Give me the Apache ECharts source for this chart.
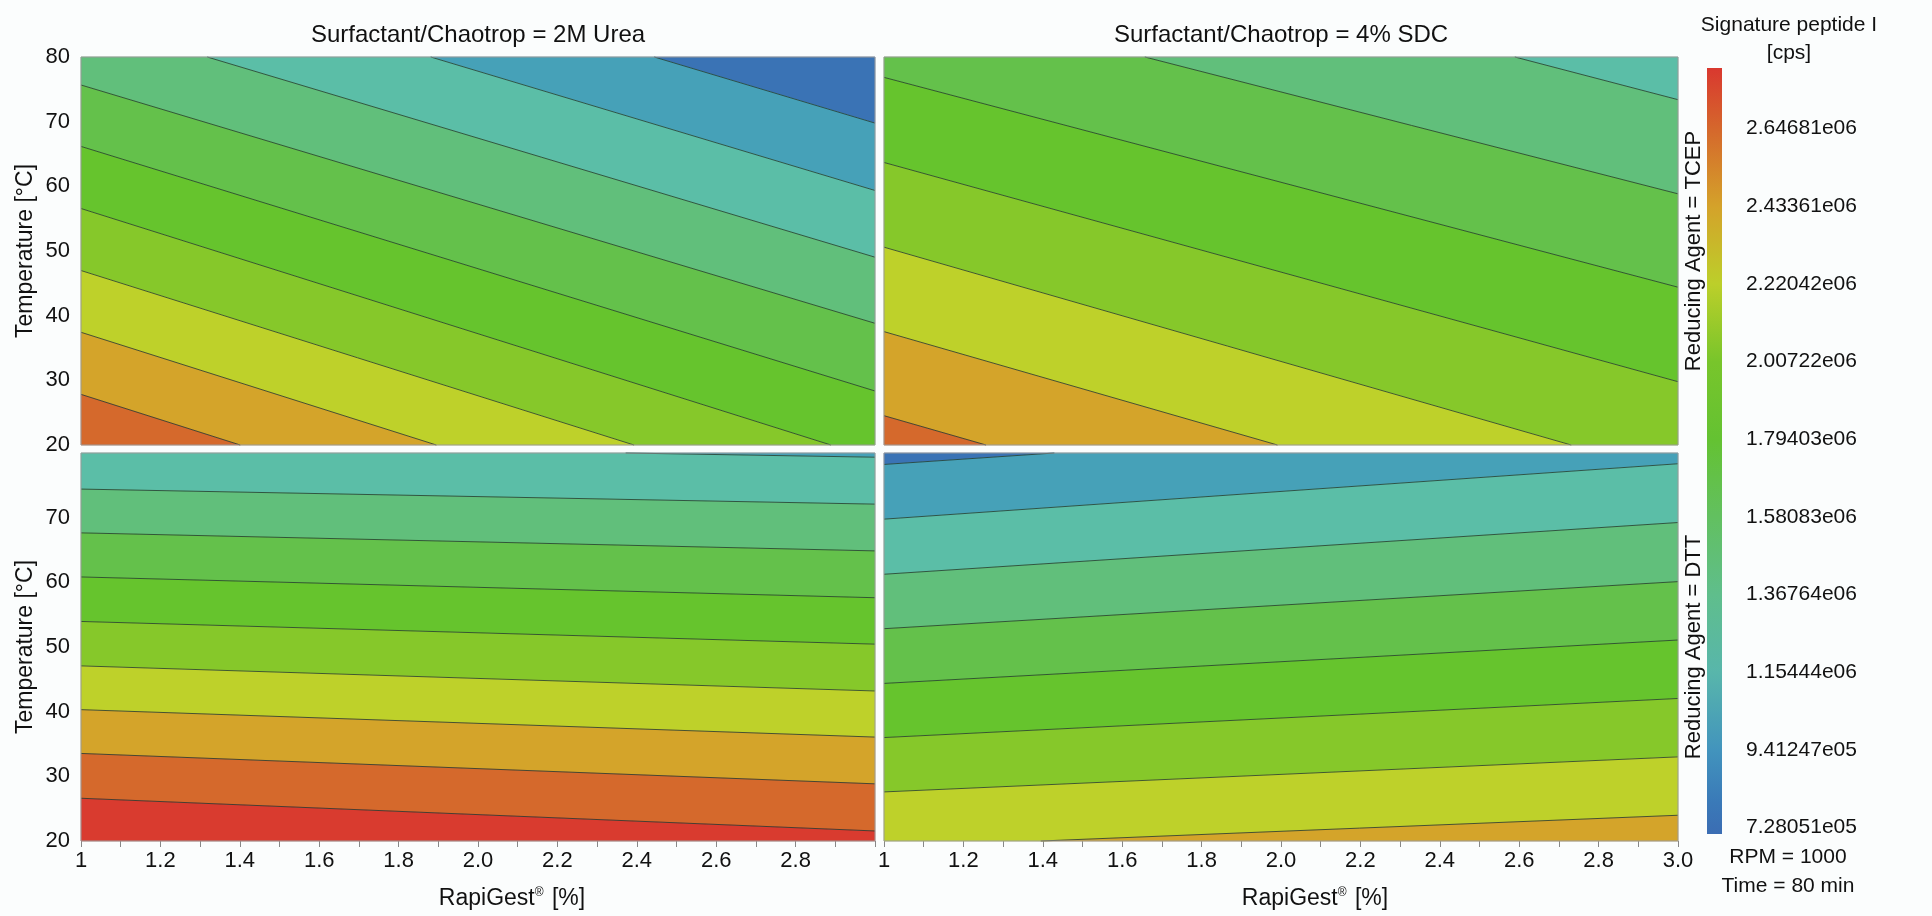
<!DOCTYPE html>
<html>
<head>
<meta charset="utf-8">
<title>Signature peptide I response contours</title>
<script src="https://cdn.jsdelivr.net/npm/echarts@6/dist/echarts.min.js"></script>
<style>
  html, body { margin: 0; padding: 0; background: #fbfdfd; }
  #chart { width: 1932px; height: 916px; }
</style>
</head>
<body>
<div id="chart"></div>
<script>
// ---- data -------------------------------------------------------------
const rapigestRange = [1, 3];          // RapiGest [%]
const temperatureRange = [20, 80];     // Temperature [°C]

// contour levels of Signature peptide I [cps] (also the colour-bar ticks)
const contourLevels = [728051, 941247, 1154440, 1367640, 1580830,
                       1794030, 2007220, 2220420, 2433610, 2646810];

// fill colour of each band: band k lies between level k-1 and level k
const bandColors = ['#3a73b5', '#46a1b8', '#5bbea7', '#61bf7b', '#64c14b',
                    '#66c42d', '#86c82a', '#bed12a', '#d4a42a', '#d5692c', '#d93b2f'];

// colour bar extent and gradient stops
const colorbarRange = [710760, 2813380];
const colorbarStops = [
  [710760, '#3b6db3'], [800000, '#3a7ab8'], [941247, '#4294bd'],
  [1154440, '#58b6ab'], [1367640, '#5fbe8c'], [1580830, '#62c060'],
  [1794030, '#64c232'], [2007220, '#78c52b'], [2220420, '#bccf2a'],
  [2433610, '#d4a22a'], [2646810, '#d5672c'], [2813380, '#d9382f']
];

const columnTitles = ['Surfactant/Chaotrop = 2M Urea', 'Surfactant/Chaotrop = 4% SDC'];
const rowTitles = ['Reducing Agent = TCEP', 'Reducing Agent = DTT'];
const fixedFactors = ['RPM = 1000', 'Time = 80 min'];

// contour lines per panel: [level index, RapiGest1, Temp1, RapiGest2, Temp2]
const ureaTcepContours = [
  [0, 2.444, 80, 3, 69.78],
  [1, 1.881, 80, 3, 59.36],
  [2, 1.318, 80, 3, 49.04],
  [3, 1, 75.67, 3, 38.82],
  [4, 1, 66.17, 3, 28.35],
  [5, 1, 56.57, 2.889, 20],
  [6, 1, 46.98, 2.393, 20],
  [7, 1, 37.43, 1.895, 20],
  [8, 1, 27.83, 1.401, 20]
];
const sdcTcepContours = [
  [2, 2.589, 80, 3, 73.40],
  [3, 1.657, 80, 3, 58.84],
  [4, 1, 76.85, 3, 44.40],
  [5, 1, 63.69, 3, 29.79],
  [6, 1, 50.59, 2.731, 20],
  [7, 1, 37.53, 1.991, 20],
  [8, 1, 24.53, 1.257, 20]
];
const ureaDttContours = [
  [1, 2.372, 80, 3, 79.35],
  [2, 1, 74.42, 3, 72.09],
  [3, 1, 67.65, 3, 64.86],
  [4, 1, 60.83, 3, 57.62],
  [5, 1, 53.95, 3, 50.44],
  [6, 1, 47.08, 3, 43.20],
  [7, 1, 40.31, 3, 36.07],
  [8, 1, 33.54, 3, 28.84],
  [9, 1, 26.61, 3, 21.55]
];
const sdcDttContours = [
  [0, 1.429, 80, 1, 78.23],
  [1, 1, 69.77, 3, 78.34],
  [2, 1, 61.25, 3, 69.25],
  [3, 1, 52.83, 3, 60.11],
  [4, 1, 44.37, 3, 51.08],
  [5, 1, 36.00, 3, 42.04],
  [6, 1, 27.59, 3, 33.01],
  [7, 1.395, 20, 3, 23.98]
];

// ---- geometry helpers ---------------------------------------------------
function side(seg, p) {
  return (seg[2] - seg[0]) * (p[1] - seg[1]) - (seg[3] - seg[1]) * (p[0] - seg[0]);
}
function clipPoly(poly, seg, sign) {
  const out = [];
  const n = poly.length;
  for (let i = 0; i < n; i++) {
    const cur = poly[i], prev = poly[(i + n - 1) % n];
    const fc = sign * side(seg, cur), fp = sign * side(seg, prev);
    const cross = () => {
      const t = fp / (fp - fc);
      return [prev[0] + t * (cur[0] - prev[0]), prev[1] + t * (cur[1] - prev[1])];
    };
    if (fc >= 0) {
      if (fp < 0) out.push(cross());
      out.push(cur);
    } else if (fp >= 0) {
      out.push(cross());
    }
  }
  return out;
}
// filled bands of one panel, clipped to the plotting rectangle
function buildBands(contours) {
  const [x0, x1] = rapigestRange, [y0, y1] = temperatureRange;
  const rect = [[x0, y0], [x1, y0], [x1, y1], [x0, y1]];
  const segs = contours.map(c => c.slice(1));
  const mid = s => [(s[0] + s[2]) / 2, (s[1] + s[3]) / 2];
  const n = segs.length;
  const highSign = segs.map((s, i) =>
    i < n - 1 ? Math.sign(side(s, mid(segs[i + 1]))) : -Math.sign(side(s, mid(segs[i - 1]))));
  const bands = [];
  for (let k = 0; k <= n; k++) {
    let poly = rect;
    if (k > 0) poly = clipPoly(poly, segs[k - 1], highSign[k - 1]);
    if (k < n) poly = clipPoly(poly, segs[k], -highSign[k]);
    if (poly.length < 3) continue;
    const band = k < n ? contours[k][0] : contours[n - 1][0] + 1;
    bands.push({ pts: poly, color: bandColors[band] });
  }
  return bands;
}

// ---- layout -----------------------------------------------------------
const FONT = "'Liberation Sans', Arial, Helvetica, sans-serif";
const panels = [
  { contours: ureaTcepContours, left: 81,  top: 57,  row: 0, col: 0 },
  { contours: sdcTcepContours,  left: 884, top: 57,  row: 0, col: 1 },
  { contours: ureaDttContours,  left: 81,  top: 453, row: 1, col: 0 },
  { contours: sdcDttContours,   left: 884, top: 453, row: 1, col: 1 }
];
const PW = 794, PH = 388;

const grids = [], xAxes = [], yAxes = [], series = [];
const fmtX = v => (Math.abs(v - 1) < 1e-9 ? '1' : v.toFixed(1));

panels.forEach((p, i) => {
  grids.push({ left: p.left, top: p.top, width: PW, height: PH, show: true,
               borderColor: '#9a9a9a', borderWidth: 1, backgroundColor: 'transparent', z: 5 });
  const bottom = p.row === 1;
  xAxes.push({
    gridIndex: i, type: 'value', min: rapigestRange[0], max: rapigestRange[1], interval: 0.2,
    axisLine: { show: false }, splitLine: { show: false },
    axisTick: { show: bottom, length: 6, lineStyle: { color: '#888' } },
    minorTick: { show: bottom, splitNumber: 2, length: 6, lineStyle: { color: '#888' } },
    axisLabel: { show: bottom, formatter: fmtX, fontSize: 22, color: '#111', fontFamily: FONT,
                 margin: 9, showMaxLabel: p.col === 1 },
    name: bottom ? '{a|RapiGest}{s|®}{a| [%]}' : '',
    nameLocation: 'middle', nameGap: 46,
    nameTextStyle: { padding: [0, 0, 0, 68],
      rich: { a: { fontSize: 23, color: '#111', fontFamily: FONT },
              s: { fontSize: 12, color: '#111', fontFamily: FONT, verticalAlign: 'top', padding: [0, 2, 10, 0] } } }
  });
  yAxes.push({
    gridIndex: i, type: 'value', min: temperatureRange[0], max: temperatureRange[1], interval: 10,
    axisLine: { show: false }, axisTick: { show: false }, splitLine: { show: false },
    axisLabel: { show: p.col === 0, fontSize: 22, color: '#111', fontFamily: FONT, margin: 11,
                 showMaxLabel: p.row === 0 },
    name: p.col === 0 ? 'Temperature [°C]' : '',
    nameLocation: 'middle', nameGap: 44,
    nameTextStyle: { fontSize: 23, color: '#111', fontFamily: FONT }
  });

  const bands = buildBands(p.contours);
  series.push({
    type: 'custom', xAxisIndex: i, yAxisIndex: i, silent: true, z: 2,
    data: bands.map(b => b.pts[0]), encode: { x: 0, y: 1 },
    renderItem: (params, api) => {
      const b = bands[params.dataIndex];
      return { type: 'polygon', shape: { points: b.pts.map(pt => api.coord(pt)) },
               style: { fill: b.color, stroke: b.color, lineWidth: 0.5 } };
    }
  });
  series.push({
    type: 'custom', xAxisIndex: i, yAxisIndex: i, silent: true, z: 3,
    data: p.contours.map(c => [c[1], c[2]]), encode: { x: 0, y: 1 },
    renderItem: (params, api) => {
      const c = p.contours[params.dataIndex];
      const a = api.coord([c[1], c[2]]), b = api.coord([c[3], c[4]]);
      return { type: 'line', shape: { x1: a[0], y1: a[1], x2: b[0], y2: b[1] },
               style: { stroke: 'rgba(34,58,46,0.8)', lineWidth: 1 } };
    }
  });
});

// colour bar
const cbIndex = panels.length;
grids.push({ left: 1707, top: 68, width: 15, height: 766 });
xAxes.push({ gridIndex: cbIndex, type: 'value', min: 0, max: 1, show: false });
yAxes.push({
  gridIndex: cbIndex, type: 'value', position: 'right',
  min: colorbarRange[0], max: colorbarRange[1],
  axisLine: { show: false }, axisTick: { show: false }, splitLine: { show: false },
  axisLabel: {
    customValues: contourLevels, margin: 24, fontSize: 21, color: '#111', fontFamily: FONT,
    formatter: v => {
      const [m, e] = v.toExponential(5).split('e');
      const ex = parseInt(e, 10);
      return m + 'e' + (ex < 0 ? '-' : '') + String(Math.abs(ex)).padStart(2, '0');
    }
  }
});
series.push({
  type: 'custom', xAxisIndex: cbIndex, yAxisIndex: cbIndex, silent: true,
  data: [[0, colorbarRange[0]]], encode: { x: 0, y: 1 },
  renderItem: (params, api) => {
    const [lo, hi] = colorbarRange;
    const tl = api.coord([0, hi]), br = api.coord([1, lo]);
    const stops = colorbarStops.map(s => ({ offset: (hi - s[0]) / (hi - lo), color: s[1] }));
    return { type: 'rect', shape: { x: tl[0], y: tl[1], width: br[0] - tl[0], height: br[1] - tl[1] },
             style: { fill: new echarts.graphic.LinearGradient(0, 0, 0, 1, stops) } };
  }
});

const txt = (text, x, y, size, extra) => Object.assign({
  type: 'text', x, y, silent: true,
  style: { text, fontSize: size, fontFamily: FONT, fill: '#111', align: 'center', verticalAlign: 'middle' }
}, extra || {});

const graphics = [
  txt('Signature peptide I', 1789, 25, 21),
  txt('[cps]', 1789, 53, 21),
  txt(rowTitles[0], 1694, 251, 22, { rotation: Math.PI / 2 }),
  txt(rowTitles[1], 1694, 647, 22, { rotation: Math.PI / 2 }),
  txt(fixedFactors[0], 1788, 857, 21),
  txt(fixedFactors[1], 1788, 886, 21)
];

const chart = echarts.init(document.getElementById('chart'), null, { renderer: 'canvas' });
chart.setOption({
  animation: false,
  backgroundColor: '#fbfdfd',
  title: columnTitles.map((t, i) => ({
    text: t, left: (i === 0 ? 81 : 884) + PW / 2, top: 23, textAlign: 'center', padding: 0,
    textStyle: { fontSize: 24, fontWeight: 'normal', color: '#111', fontFamily: FONT }
  })),
  grid: grids,
  xAxis: xAxes,
  yAxis: yAxes,
  series: series,
  graphic: graphics
});
</script>
</body>
</html>
